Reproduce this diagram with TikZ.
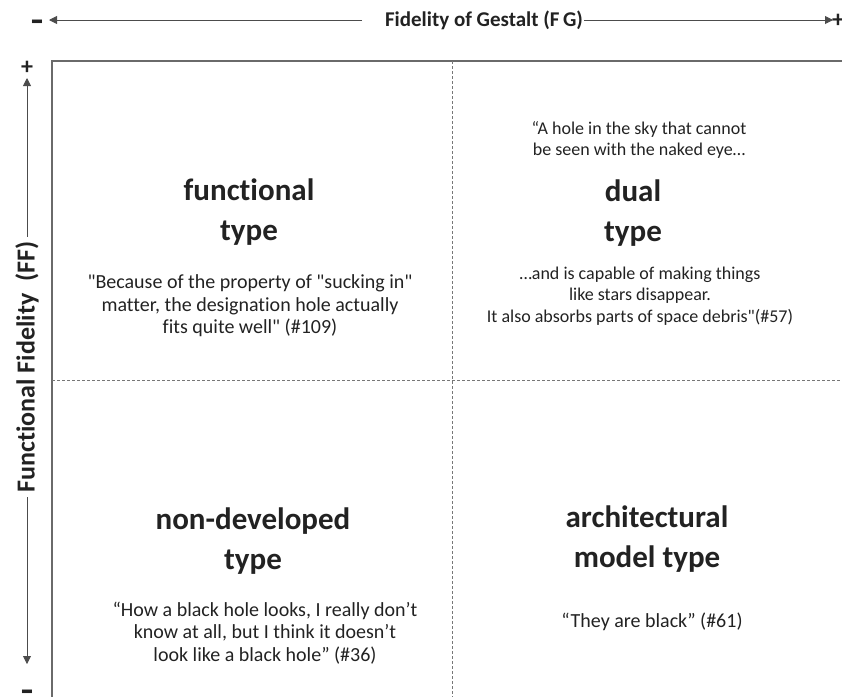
\documentclass[tikz,border=0pt]{standalone}
\usepackage{fontspec}
\setmainfont{Carlito}[Ligatures={NoCommon}]
\usetikzlibrary{arrows.meta}
\definecolor{boxgray}{HTML}{6A6A6A}
\definecolor{dashgray}{HTML}{777777}
\definecolor{ink}{HTML}{222222}
\begin{document}
\begin{tikzpicture}[x=1pt,y=-1pt,
  head/.style={font=\fontsize{31}{40}\selectfont\bfseries, align=center, text=ink},
  quote/.style={font=\fontsize{20}{22.5}\selectfont, align=center, text=ink},
  axislabel/.style={font=\fontsize{21}{24}\selectfont\bfseries, text=ink, inner sep=1pt},
  axisline/.style={draw=black!70, line width=0.9pt},
  tip/.style={-{Triangle[length=8pt,width=8pt]}},
  sign/.style={font=\fontsize{24}{24}\selectfont\bfseries, inner sep=0pt, text=ink},
  minus/.style={font=\fontsize{34}{34}\selectfont\bfseries, inner sep=0pt, text=ink, xscale=1.2}]
\useasboundingbox (0,0) rectangle (842,697);
% frame
\draw[boxgray, line width=1.3pt] (842,61) -- (52,61) -- (52,697);
\draw[dashgray, dash pattern=on 3pt off 2pt, line width=0.9pt] (452,61) -- (452,697);
\draw[dashgray, dash pattern=on 3pt off 2pt, line width=0.9pt] (52,380) -- (842,380);
% top axis
\node[axislabel] (fg) at (484,20) {Fidelity of Gestalt (F\,G)};
\node[minus] (tminus) at (37,26) {-};
\node[sign] (tplus) at (838,21) {+};
\coordinate (tl) at (49,20);
\coordinate (tlend) at (362,20);
\coordinate (tr) at (833,20);
\draw[axisline, tip] (tlend) -- (tl);
\draw[axisline, tip] (fg.east) -- (tr);
% left axis
\node[axislabel, rotate=90, font=\fontsize{26}{28}\selectfont\bfseries] (ff) at (27,367) {Functional Fidelity\ \ (FF)};
\node[sign] (lplus) at (27,68) {+};
\node[minus] (lminus) at (27,696) {-};
\coordinate (lt) at (27,78);
\coordinate (lb) at (27,664);
\draw[axisline, tip] (ff.east) ++(0,-4) -- (lt);
\draw[axisline, tip] (ff.west) ++(0,4) -- (lb);
% quadrants
\node[head] (fun) at (249,212) {functional\\type};
\node[quote] (funq) at (250,306) {\textquotedbl Because of the property of \textquotedbl sucking in\textquotedbl\\matter, the designation hole actually\\fits quite well\textquotedbl{} (\#109)};
\node[quote, font=\fontsize{18}{20.5}\selectfont] (dualq1) at (639,140) {“A hole in the sky that cannot\\be seen with the naked eye…};
\node[head] (dual) at (633,213) {dual\\type};
\node[quote, font=\fontsize{18}{21.5}\selectfont] (dualq2) at (640,296) {…and is capable of making things\\like stars disappear.\\It also absorbs parts of space debris\textquotedbl(\#57)};
\node[head] (non) at (253,541) {non-developed\\type};
\node[quote] (nonq) at (265,633) {“How a black hole looks, I really don’t\\know at all, but I think it doesn’t\\look like a black hole” (\#36)};
\node[head] (arch) at (647,539) {architectural\\model type};
\node[quote] (archq) at (652,622) {“They are black” (\#61)};
\end{tikzpicture}
\end{document}
